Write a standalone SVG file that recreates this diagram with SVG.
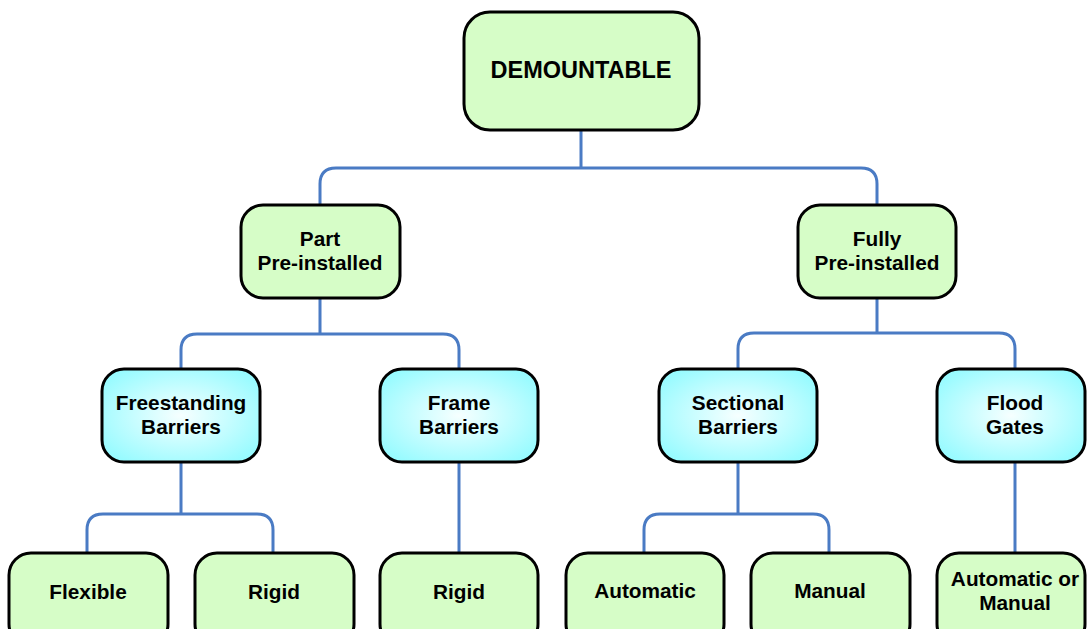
<svg xmlns="http://www.w3.org/2000/svg" width="1088" height="629" viewBox="0 0 1088 629">
  <defs>
    <radialGradient id="cyanFill" cx="50%" cy="50%" r="60%">
      <stop offset="0" stop-color="#f6ffff"/>
      <stop offset="1" stop-color="#98fbff"/>
    </radialGradient>
    <style>
      .box { stroke: #000; stroke-width: 3; }
      .green { fill: #d6fdc7; }
      .cyan { fill: url(#cyanFill); }
      .lbl { font-family: "Liberation Sans", Arial, sans-serif; font-weight: bold; font-size: 20.8px; fill: #000; text-anchor: middle; }
      .big { font-size: 23.5px; }
      .link { fill: none; stroke: #4a7bc4; stroke-width: 3; }
    </style>
  </defs>
  <rect width="1088" height="629" fill="#fff"/>

  <!-- tree connectors -->
  <g id="connectors">
    <path class="link" d="M581 130 V168 M320 205 V184 Q320 168 336 168 H861 Q877 168 877 184 V205"/>
    <path class="link" d="M320 298 V334 M181 369 V350 Q181 334 197 334 H443 Q459 334 459 350 V369"/>
    <path class="link" d="M877 298 V333 M738 369 V349 Q738 333 754 333 H999 Q1015 333 1015 349 V369"/>
    <path class="link" d="M181 462 V514 M87 553 V530 Q87 514 103 514 H257 Q273 514 273 530 V553"/>
    <path class="link" d="M459 462 V553"/>
    <path class="link" d="M738 462 V514 M644 553 V530 Q644 514 660 514 H813 Q829 514 829 530 V553"/>
    <path class="link" d="M1015 462 V553"/>
  </g>

  <g id="demountable">
    <rect class="box green" x="464" y="12" width="235" height="118" rx="26"/>
    <text class="lbl big" x="581" y="78">DEMOUNTABLE</text>
  </g>

  <g id="part-preinstalled">
    <rect class="box green" x="241" y="205" width="159" height="93" rx="22"/>
    <text class="lbl" x="320" y="246">Part</text>
    <text class="lbl" x="320" y="270">Pre-installed</text>
  </g>

  <g id="fully-preinstalled">
    <rect class="box green" x="798" y="205" width="158" height="93" rx="22"/>
    <text class="lbl" x="877" y="246">Fully</text>
    <text class="lbl" x="877" y="270">Pre-installed</text>
  </g>

  <g id="freestanding-barriers">
    <rect class="box cyan" x="102" y="369" width="158" height="93" rx="22"/>
    <text class="lbl" x="181" y="410">Freestanding</text>
    <text class="lbl" x="181" y="434">Barriers</text>
  </g>

  <g id="frame-barriers">
    <rect class="box cyan" x="380" y="369" width="158" height="93" rx="22"/>
    <text class="lbl" x="459" y="410">Frame</text>
    <text class="lbl" x="459" y="434">Barriers</text>
  </g>

  <g id="sectional-barriers">
    <rect class="box cyan" x="659" y="369" width="158" height="93" rx="22"/>
    <text class="lbl" x="738" y="410">Sectional</text>
    <text class="lbl" x="738" y="434">Barriers</text>
  </g>

  <g id="flood-gates">
    <rect class="box cyan" x="937" y="369" width="148" height="93" rx="22"/>
    <text class="lbl" x="1015" y="410">Flood</text>
    <text class="lbl" x="1015" y="434">Gates</text>
  </g>

  <g id="flexible">
    <rect class="box green" x="9" y="553" width="159" height="93" rx="22"/>
    <text class="lbl" x="88" y="599">Flexible</text>
  </g>

  <g id="rigid-freestanding">
    <rect class="box green" x="195" y="553" width="159" height="93" rx="22"/>
    <text class="lbl" x="274" y="599">Rigid</text>
  </g>

  <g id="rigid-frame">
    <rect class="box green" x="380" y="553" width="158" height="93" rx="22"/>
    <text class="lbl" x="459" y="599">Rigid</text>
  </g>

  <g id="automatic">
    <rect class="box green" x="566" y="553" width="158" height="93" rx="22"/>
    <text class="lbl" x="645" y="598">Automatic</text>
  </g>

  <g id="manual">
    <rect class="box green" x="751" y="553" width="159" height="93" rx="22"/>
    <text class="lbl" x="830" y="598">Manual</text>
  </g>

  <g id="automatic-or-manual">
    <rect class="box green" x="937" y="553" width="148" height="93" rx="22"/>
    <text class="lbl" x="1015" y="586">Automatic or</text>
    <text class="lbl" x="1015" y="610">Manual</text>
  </g>
</svg>
